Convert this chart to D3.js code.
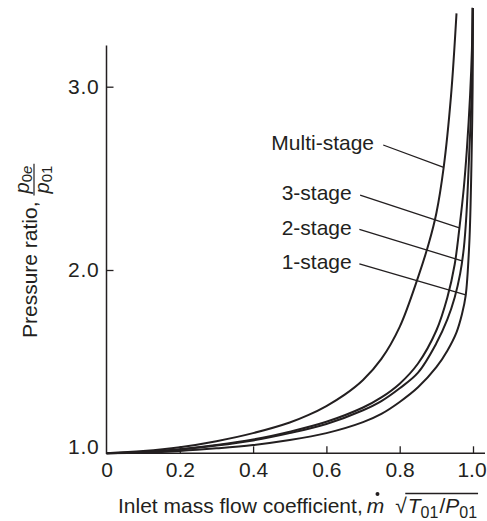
<!DOCTYPE html>
<html>
<head>
<meta charset="utf-8">
<script src="https://cdn.jsdelivr.net/npm/d3@7"></script>
<style>
  html, body { margin: 0; padding: 0; background: #fff; }
  svg { display: block; }
  text { font-family: "Liberation Sans", Arial, Helvetica, sans-serif; fill: #231f20; }
</style>
</head>
<body>
<svg id="chart" width="487" height="521"></svg>
<script>
// ---------------- data ----------------
const xTicks = [0, 0.2, 0.4, 0.6, 0.8, 1.0];
const xTickLabels = ["0", "0.2", "0.4", "0.6", "0.8", "1.0"];
const yTicks = [1, 2, 3];
const yTickLabels = ["1.0", "2.0", "3.0"];

const seriesNames = ["Multi-stage", "3-stage", "2-stage", "1-stage"];

const multiX = [0, 0.1, 0.2, 0.3, 0.4, 0.5, 0.55, 0.6, 0.65, 0.7, 0.75, 0.8, 0.85, 0.88, 0.9, 0.92, 0.94, 0.955];
const multiY = [1.0, 1.012, 1.033, 1.066, 1.11, 1.168, 1.208, 1.258, 1.32, 1.40, 1.515, 1.69, 1.96, 2.15, 2.31, 2.56, 2.95, 3.40];

const stage3X = [0, 0.1, 0.2, 0.3, 0.4, 0.5, 0.6, 0.7, 0.75, 0.8, 0.85, 0.9, 0.93, 0.95, 0.963, 0.975, 0.983, 0.992, 0.997, 0.999];
const stage3Y = [1.0, 1.007, 1.022, 1.045, 1.075, 1.118, 1.172, 1.25, 1.305, 1.38, 1.49, 1.67, 1.85, 2.03, 2.23, 2.45, 2.65, 2.95, 3.2, 3.43];

const stage2X = [0, 0.1, 0.2, 0.3, 0.4, 0.5, 0.6, 0.7, 0.75, 0.8, 0.85, 0.9, 0.93, 0.95, 0.965, 0.975, 0.982, 0.99, 0.996, 0.999];
const stage2Y = [1.0, 1.006, 1.02, 1.042, 1.07, 1.11, 1.16, 1.235, 1.285, 1.355, 1.44, 1.60, 1.73, 1.85, 1.98, 2.12, 2.30, 2.65, 2.95, 3.43];

const stage1X = [0, 0.1, 0.2, 0.3, 0.4, 0.5, 0.6, 0.7, 0.75, 0.8, 0.85, 0.9, 0.93, 0.955, 0.97, 0.98, 0.99, 0.996, 0.999, 1.0];
const stage1Y = [1.0, 1.004, 1.013, 1.027, 1.045, 1.072, 1.11, 1.17, 1.215, 1.28, 1.36, 1.47, 1.56, 1.66, 1.76, 1.86, 2.15, 2.6, 3.0, 3.43];

// label anchor (text end, text centre) and leader line, in data units
const labelX = [0.730, 0.669, 0.669, 0.669];
const labelY = [2.694, 2.422, 2.231, 2.045];
const leaderX0 = [0.755, 0.692, 0.690, 0.690];
const leaderY0 = [2.682, 2.409, 2.222, 2.033];
const leaderEndY = [2.56, 2.23, 2.05, 1.864];   // leader meets its curve at this ratio

// ---------------- drawing ----------------
const svg = d3.select("#chart");
const ink = "#231f20";
const FONT = "Liberation Sans, Arial, sans-serif";

const x = d3.scaleLinear().domain([0, 1]).range([106.5, 473]);
const y = d3.scaleLinear().domain([1, 3]).range([453.3, 86.7]);

// axes lines
svg.append("line").attr("x1", x(0)).attr("x2", 485).attr("y1", y(1)).attr("y2", y(1))
  .attr("stroke", ink).attr("stroke-width", 1.5);
svg.append("line").attr("x1", x(0)).attr("x2", x(0)).attr("y1", y(1) + 0.75).attr("y2", 45.5)
  .attr("stroke", ink).attr("stroke-width", 1.5);

// x axis ticks (inward)
const xAxis = d3.axisBottom(x).tickValues(xTicks)
  .tickFormat((d, i) => xTickLabels[i]).tickSizeInner(-7).tickSizeOuter(0).tickPadding(9);
const gx = svg.append("g").attr("transform", `translate(0,${y(1)})`).call(xAxis);
gx.select(".domain").remove();
gx.selectAll(".tick line").attr("stroke", ink).attr("stroke-width", 1.3);
gx.selectAll(".tick text").attr("font-size", 21).attr("fill", ink)
  .attr("font-family", FONT);
gx.selectAll(".tick").filter(d => d === 0).select("line").remove();
gx.selectAll(".tick").filter(d => d === 1).select("text").attr("dx", "-1.5");

// y axis ticks (inward)
const yAxis = d3.axisLeft(y).tickValues(yTicks)
  .tickFormat((d, i) => yTickLabels[i]).tickSizeInner(-7).tickSizeOuter(0).tickPadding(7);
const gy = svg.append("g").attr("transform", `translate(${x(0)},0)`).call(yAxis);
gy.select(".domain").remove();
gy.selectAll(".tick line").attr("stroke", ink).attr("stroke-width", 1.3);
gy.selectAll(".tick text").attr("font-size", 21).attr("fill", ink)
  .attr("font-family", FONT).attr("letter-spacing", "0.8px");
gy.selectAll(".tick").filter(d => d === 1).select("line").remove();
gy.selectAll(".tick").filter(d => d === 1).select("text").attr("dy", "0.0em");

// curves
const line = d3.line().x(d => x(d[0])).y(d => y(d[1])).curve(d3.curveCatmullRom.alpha(0.5));
const series = [
  [multiX, multiY], [stage3X, stage3Y], [stage2X, stage2Y], [stage1X, stage1Y]
];
series.forEach(([xs, ys]) => {
  const pts = xs.map((v, i) => [v, ys[i]]);
  svg.append("path").datum(pts).attr("d", line)
    .attr("fill", "none").attr("stroke", ink).attr("stroke-width", 2)
    .attr("stroke-linejoin", "round");
});

// find x on a series for a given ratio (linear between the read points)
function xAt(xs, ys, v) {
  for (let i = 1; i < ys.length; i++) {
    if (ys[i] >= v) {
      const t = (v - ys[i - 1]) / (ys[i] - ys[i - 1]);
      return xs[i - 1] + t * (xs[i] - xs[i - 1]);
    }
  }
  return xs[xs.length - 1];
}

// labels + leaders
seriesNames.forEach((name, i) => {
  svg.append("text").attr("x", x(labelX[i])).attr("y", y(labelY[i]))
    .attr("text-anchor", "end").attr("dominant-baseline", "central")
    .attr("font-size", 21).text(name);
  const [xs, ys] = series[i];
  svg.append("line")
    .attr("x1", x(leaderX0[i])).attr("y1", y(leaderY0[i]))
    .attr("x2", x(xAt(xs, ys, leaderEndY[i]))).attr("y2", y(leaderEndY[i]))
    .attr("stroke", ink).attr("stroke-width", 1.3);
});

// x axis title
(function () {
  const base = 513;
  let cx = 118;
  const t1 = svg.append("text").attr("x", cx).attr("y", base).attr("font-size", 21)
    .text("Inlet mass flow coefficient,");
  cx += t1.node().getComputedTextLength() + 4;
  const m = svg.append("text").attr("x", cx).attr("y", base).attr("font-size", 21)
    .attr("font-style", "italic").text("m");
  const mw = m.node().getComputedTextLength();
  svg.append("circle").attr("cx", cx + mw / 2 + 2).attr("cy", base - 19).attr("r", 2).attr("fill", ink);
  cx += mw + 11;
  const sq = svg.append("text").attr("x", cx).attr("y", base).attr("font-size", 21).text("√");
  const sw = sq.node().getComputedTextLength();
  cx += sw;
  const startOver = cx - 1.5;
  cx += 1;
  const T = svg.append("text").attr("x", cx).attr("y", base).attr("font-size", 21)
    .attr("font-style", "italic").text("T");
  cx += T.node().getComputedTextLength();
  const s1 = svg.append("text").attr("x", cx).attr("y", base + 5).attr("font-size", 16).text("01");
  cx += s1.node().getComputedTextLength() + 1;
  const sl = svg.append("text").attr("x", cx).attr("y", base).attr("font-size", 21).text("/");
  cx += sl.node().getComputedTextLength();
  const P = svg.append("text").attr("x", cx).attr("y", base).attr("font-size", 21)
    .attr("font-style", "italic").text("P");
  cx += P.node().getComputedTextLength();
  const s2 = svg.append("text").attr("x", cx).attr("y", base + 5).attr("font-size", 16).text("01");
  cx += s2.node().getComputedTextLength();
  svg.append("line").attr("x1", startOver).attr("x2", cx + 1).attr("y1", base - 19.5).attr("y2", base - 19.5)
    .attr("stroke", ink).attr("stroke-width", 1.3);
})();

// y axis title (rotated)
(function () {
  const g = svg.append("g").attr("transform", "translate(37,338) rotate(-90)");
  const t = g.append("text").attr("x", 0).attr("y", 0).attr("font-size", 21).text("Pressure ratio,");
  let u = t.node().getComputedTextLength() + 6;
  const u0 = u;
  // numerator
  const np = g.append("text").attr("x", u + 2).attr("y", -8).attr("font-size", 20)
    .attr("font-style", "italic").text("p");
  const npw = np.node().getComputedTextLength();
  const ns = g.append("text").attr("x", u + 2 + npw).attr("y", -5).attr("font-size", 15).text("0");
  const nsw = ns.node().getComputedTextLength();
  const ne = g.append("text").attr("x", u + 2 + npw + nsw).attr("y", -5).attr("font-size", 15)
    .attr("font-style", "italic").text("e");
  const numW = 2 + npw + nsw + ne.node().getComputedTextLength();
  // denominator
  const dp = g.append("text").attr("x", u + 2).attr("y", 12).attr("font-size", 20)
    .attr("font-style", "italic").text("p");
  const dpw = dp.node().getComputedTextLength();
  const ds = g.append("text").attr("x", u + 2 + dpw).attr("y", 15).attr("font-size", 15).text("01");
  const denW = 2 + dpw + ds.node().getComputedTextLength();
  g.append("line").attr("x1", u0).attr("x2", u0 + Math.max(numW, denW) + 2)
    .attr("y1", -3).attr("y2", -3).attr("stroke", ink).attr("stroke-width", 1.2);
})();
</script>
</body>
</html>
